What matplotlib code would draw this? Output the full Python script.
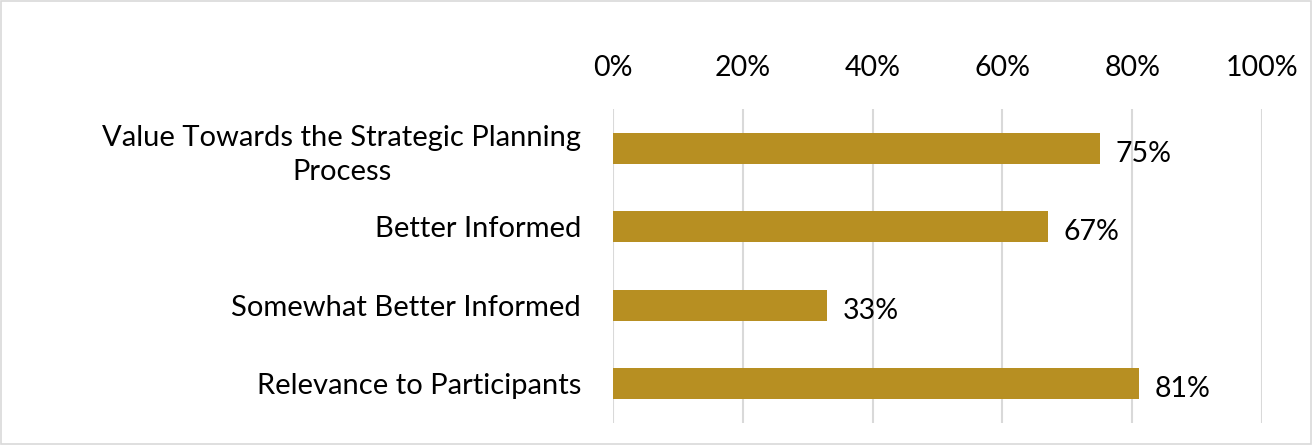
import matplotlib.pyplot as plt
from matplotlib.patches import Rectangle
from matplotlib.ticker import FuncFormatter

# data
categories = ["Value Towards the Strategic Planning\nProcess", "Better Informed",
              "Somewhat Better Informed", "Relevance to Participants"]
values = [0.75, 0.67, 0.33, 0.81]
bar_color = "#B78F22"

plt.rcParams['font.family'] = ['Lato', 'DejaVu Sans']

fig = plt.figure(figsize=(13.12, 4.45), dpi=100)
ax = fig.add_axes([0.4672, 0.0494, 0.4948, 0.7056])

ypos = list(range(len(categories)))
ax.barh(ypos, values, height=0.395, color=bar_color, zorder=3)
ax.set_ylim(len(categories) - 0.5, -0.5)
ax.set_xlim(0, 1)
ax.set_yticks(ypos)
ax.set_yticklabels(categories, fontsize=21)
for t in ax.get_yticklabels():
    t.set_multialignment('center')
    t.set_linespacing(1.4)
ax.tick_params(axis='y', length=0, pad=23)

ax.xaxis.tick_top()
ax.set_xticks([0, 0.2, 0.4, 0.6, 0.8, 1.0])
ax.xaxis.set_major_formatter(FuncFormatter(lambda v, p: f"{v*100:.0f}%"))
ax.tick_params(axis='x', length=0, pad=20, labelsize=20.5)
ax.grid(axis='x', color='#D9D9D9', linewidth=1.5, zorder=0)

for s in ax.spines.values():
    s.set_visible(False)

for y, v in zip(ypos, values):
    ax.text(v + 0.024, y + 0.07, f"{v*100:.0f}%", va='center', ha='left', fontsize=20.5)

fig.patches.append(Rectangle((0.001, 0.002), 0.998, 0.996, transform=fig.transFigure,
                             fill=False, edgecolor='#D9D9D9', linewidth=1.2))

fig.savefig("out.png", dpi=100)
